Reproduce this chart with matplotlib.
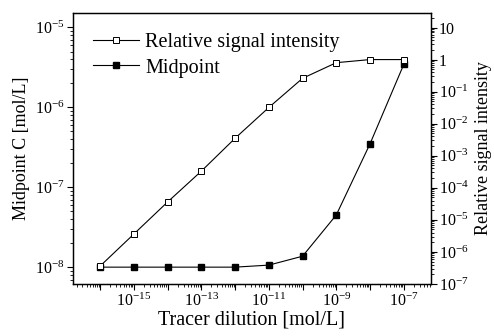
import matplotlib
matplotlib.use("Agg")
import numpy as np
from matplotlib import pyplot as plt
from matplotlib import ticker

plt.rcParams["font.family"] = ["Liberation Serif", "DejaVu Serif"]
plt.rcParams["mathtext.fontset"] = "custom"
plt.rcParams["mathtext.rm"] = "Liberation Serif"
plt.rcParams["mathtext.it"] = "Liberation Serif:italic"

dilution = [1e-16, 1e-15, 1e-14, 1e-13, 1e-12, 1e-11, 1e-10, 1e-9, 1e-8, 1e-7]
midpoint = [1.0e-8, 1.0e-8, 1.0e-8, 1.0e-8, 1.0e-8, 1.06e-8, 1.37e-8, 4.5e-8, 3.5e-7, 3.45e-6]
rel_signal = [3.6e-7, 3.6e-6, 3.6e-5, 3.3e-4, 3.5e-3, 3.2e-2, 0.26, 0.8, 1.0, 1.0]

fig = plt.figure(figsize=(4.94, 3.36), dpi=100)
ax = fig.add_axes([0.148, 0.155, 0.724, 0.806])
ax2 = ax.twinx()

l1, = ax2.plot(dilution, rel_signal, color="black", lw=0.8, marker="s", ms=4.3,
               mfc="white", mec="black", mew=0.7, zorder=3)
l2, = ax.plot(dilution, midpoint, color="black", lw=0.8, marker="s", ms=4.3,
              mfc="black", mec="black", zorder=2)

ax.set_xscale("log")
ax.set_yscale("log")
ax2.set_yscale("log")
ax.set_xlim(10 ** -16.8, 10 ** -6.2)
ax.set_ylim(10 ** -8.21, 10 ** -4.82)
ax2.set_ylim(1e-7, 10 ** 1.45)

def xfmt(v, pos):
    e = int(round(np.log10(v)))
    if e % 2 == 0:
        return ""
    return "$10^{%d}$" % e

def yfmt(v, pos):
    e = int(round(np.log10(v)))
    if e == 0:
        return "1"
    if e == 1:
        return "10"
    return "$10^{%d}$" % e

ax.xaxis.set_major_locator(ticker.LogLocator(base=10, numticks=20))
ax.xaxis.set_minor_locator(ticker.LogLocator(base=10, subs=np.arange(2, 10), numticks=20))
ax.xaxis.set_major_formatter(ticker.FuncFormatter(xfmt))
ax.xaxis.set_minor_formatter(ticker.NullFormatter())
ax.yaxis.set_major_locator(ticker.LogLocator(base=10, numticks=20))
ax.yaxis.set_minor_locator(ticker.LogLocator(base=10, subs=np.arange(2, 10), numticks=20))
ax.yaxis.set_major_formatter(ticker.FuncFormatter(yfmt))
ax.yaxis.set_minor_formatter(ticker.NullFormatter())
ax2.yaxis.set_major_locator(ticker.LogLocator(base=10, numticks=20))
ax2.yaxis.set_minor_locator(ticker.LogLocator(base=10, subs=np.arange(2, 10), numticks=20))
ax2.yaxis.set_major_formatter(ticker.FuncFormatter(yfmt))
ax2.yaxis.set_minor_formatter(ticker.NullFormatter())

for a in (ax, ax2):
    a.tick_params(which="major", direction="out", length=4, width=0.8, labelsize=11.5, pad=2)
    a.tick_params(which="minor", direction="out", length=2, width=0.6)
    for s in a.spines.values():
        s.set_linewidth(0.9)

ax.set_xlabel("Tracer dilution [mol/L]", fontsize=14.5, labelpad=1)
ax.set_ylabel("Midpoint C [mol/L]", fontsize=13, labelpad=4)
ax2.set_ylabel("Relative signal intensity", fontsize=13, labelpad=4)

ax2.legend([l1, l2], ["Relative signal intensity", "Midpoint"], loc="upper left",
           bbox_to_anchor=(0.01, 0.985), frameon=False, fontsize=14.5,
           handlelength=2.3, handletextpad=0.3, labelspacing=0.3, borderaxespad=0.4)

fig.savefig("out.png", dpi=100)
